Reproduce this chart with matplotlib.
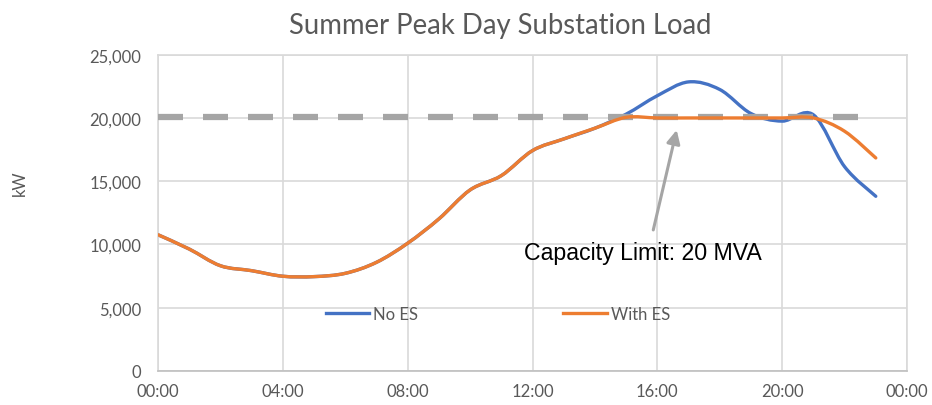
import matplotlib
matplotlib.use("Agg")
import matplotlib.pyplot as plt
from matplotlib.path import Path
from matplotlib.patches import PathPatch
from matplotlib.lines import Line2D
from matplotlib.ticker import FuncFormatter

# ---- data ----
hours = list(range(24))
no_es = [10770, 9640, 8320, 7930, 7490, 7460, 7720, 8590, 10100, 12020,
         14310, 15440, 17420, 18340, 19190, 20300, 21760, 22850, 22250,
         20350, 19750, 20250, 16150, 13810]
with_es = [10770, 9640, 8320, 7930, 7490, 7460, 7720, 8590, 10100, 12020,
           14310, 15440, 17420, 18340, 19190, 20050, 20000, 20000, 20000,
           20000, 20000, 20000, 18950, 16840]
capacity = [20100] * 24
series_names = ["No ES", "With ES"]
x_tick_pos = [0, 4, 8, 12, 16, 20, 24]
x_tick_labels = ["00:00", "04:00", "08:00", "12:00", "16:00", "20:00", "00:00"]
y_ticks = [0, 5000, 10000, 15000, 20000, 25000]
title = "Summer Peak Day Substation Load"
ylabel = "kW"
note = "Capacity Limit: 20 MVA"

BLUE = "#4472C4"
ORANGE = "#ED7D31"
GRAY = "#A5A5A5"
GRID = "#D9D9D9"
TXT = "#595959"


def smooth_path(xs, ys):
    """Excel-like smoothed line as cubic Bezier path in data coordinates."""
    n = len(xs)
    verts = [(xs[0], ys[0])]
    codes = [Path.MOVETO]
    for i in range(n - 1):
        x0, y0 = (xs[i - 1], ys[i - 1]) if i > 0 else (xs[i], ys[i])
        x1, y1 = xs[i], ys[i]
        x2, y2 = xs[i + 1], ys[i + 1]
        x3, y3 = (xs[i + 2], ys[i + 2]) if i + 2 < n else (xs[i + 1], ys[i + 1])
        c1 = (x1 + (x2 - x0) / 6.0, y1 + (y2 - y0) / 6.0)
        c2 = (x2 - (x3 - x1) / 6.0, y2 - (y3 - y1) / 6.0)
        verts += [c1, c2, (x2, y2)]
        codes += [Path.CURVE4] * 3
    return Path(verts, codes)


plt.rcParams["font.family"] = ["Lato", "DejaVu Sans"]

fig = plt.figure(figsize=(9.32, 4.06), dpi=100)
ax = fig.add_axes([158 / 932, 1 - 372 / 406, (907 - 158) / 932, (372 - 55.7) / 406])

ax.set_xlim(0, 24)
ax.set_ylim(0, 25000)
ax.set_xticks(x_tick_pos)
ax.set_xticklabels(x_tick_labels)
ax.set_yticks(y_ticks)
ax.yaxis.set_major_formatter(FuncFormatter(lambda v, p: f"{int(v):,}"))
ax.tick_params(length=0, labelsize=12, labelcolor=TXT, pad=12)
ax.tick_params(axis="x", pad=9)
ax.grid(True, color=GRID, linewidth=1.2)
ax.set_axisbelow(True)
for s in ax.spines.values():
    s.set_color(GRID)
    s.set_linewidth(1.2)
ax.spines["bottom"].set_color("#BFBFBF")

# capacity dashed line
ax.plot(hours, capacity, color=GRAY, linewidth=4.5, dashes=(4.0, 3.2),
        solid_capstyle="butt", dash_capstyle="butt", zorder=3)

# smoothed series
for vals, col, z in [(no_es, BLUE, 2), (with_es, ORANGE, 4)]:
    patch = PathPatch(smooth_path(hours, vals), facecolor="none", edgecolor=col,
                      linewidth=2.4, capstyle="round", joinstyle="round", zorder=z)
    ax.add_patch(patch)

# legend
handles = [Line2D([], [], color=BLUE, linewidth=2.4),
           Line2D([], [], color=ORANGE, linewidth=2.4)]
leg = ax.legend(handles, series_names, loc="center", bbox_to_anchor=(0.454, 0.18),
                ncol=2, frameon=False, fontsize=12, handlelength=2.6,
                handletextpad=0.25, columnspacing=8.7, labelcolor=TXT)

# annotation arrow + text
ax.annotate("", xy=(16.62, 19050), xytext=(15.87, 11150),
            arrowprops=dict(arrowstyle="-|>", color=GRAY, lw=2.2, mutation_scale=20,
                            shrinkA=0, shrinkB=0), zorder=5)
ax.text(15.54, 9330, note, ha="center", va="center", fontsize=16.7,
        color="black", family=["Liberation Sans", "DejaVu Sans"], zorder=6)

fig.text(500 / 932, 1 - 26 / 406, title, ha="center", va="center", fontsize=19.8, color=TXT)
fig.text(20 / 932, 1 - 183 / 406, ylabel, ha="center", va="center", rotation=90,
         fontsize=12, color=TXT)

fig.savefig("out.png", dpi=100)
